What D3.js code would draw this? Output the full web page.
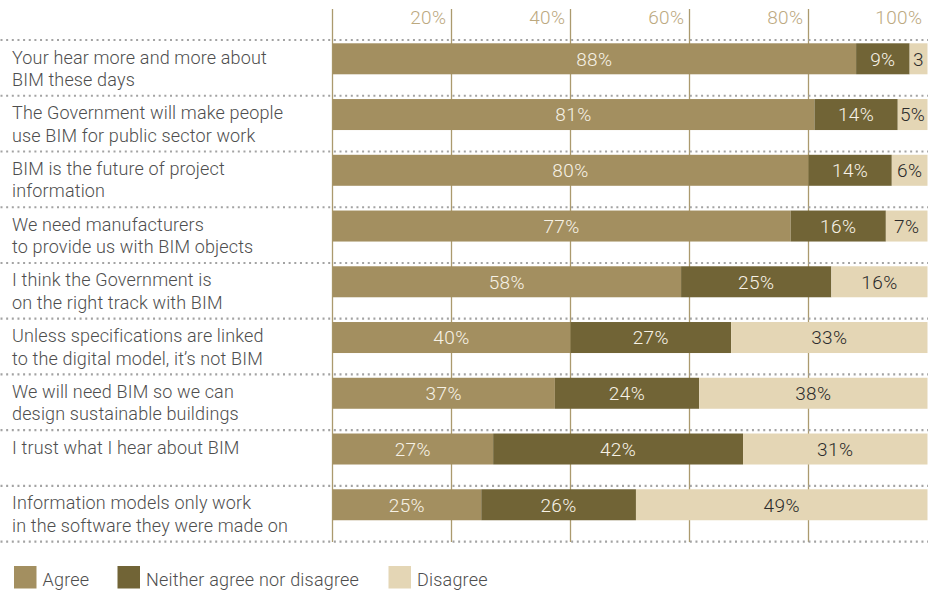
<!DOCTYPE html>
<html>
<head>
<meta charset="utf-8">
<script src="https://cdn.jsdelivr.net/npm/d3@7"></script>
<style>
  html, body { margin: 0; padding: 0; background: #fff; }
  svg { display: block; }
  text { font-family: Roboto, "Noto Sans", sans-serif; }
</style>
</head>
<body>
<svg id="chart" width="939" height="594"></svg>
<script>
// Survey statements (line breaks mark the two-line labels)
const questions = [
  "Your hear more and more about\nBIM these days",
  "The Government will make people\nuse BIM for public sector work",
  "BIM is the future of project\ninformation",
  "We need manufacturers\nto provide us with BIM objects",
  "I think the Government is\non the right track with BIM",
  "Unless specifications are linked\nto the digital model, it’s not BIM",
  "We will need BIM so we can\ndesign sustainable buildings",
  "I trust what I hear about BIM",
  "Information models only work\nin the software they were made on"
];

// Response shares, in percent
const agree    = [88, 81, 80, 77, 58, 40, 37, 27, 25];
const neither  = [ 9, 14, 14, 16, 25, 27, 24, 42, 26];
const disagree = [ 3,  5,  6,  7, 16, 33, 38, 31, 49];

const seriesKeys   = ["agree", "neither", "disagree"];
const seriesNames  = ["Agree", "Neither agree nor disagree", "Disagree"];
const seriesColors = ["#a38f60", "#716436", "#e4d6b5"];
const labelColors  = ["#f7f2e6", "#f7f2e6", "#2b2b2b"];

const tickValues = [0.2, 0.4, 0.6, 0.8, 1.0];
const gridValues = [0, 0.2, 0.4, 0.6, 0.8];

const rows = questions.map((q, i) => ({
  question: q, agree: agree[i], neither: neither[i], disagree: disagree[i]
}));

const svg = d3.select("#chart");

const x = d3.scaleLinear().domain([0, 1]).range([332.5, 927.5]);
const y = d3.scaleBand().domain(questions).range([40, 541.7]).paddingInner(0);

const stacked = d3.stack()
  .keys(seriesKeys)
  .offset(d3.stackOffsetExpand)(rows);

// vertical gridlines, behind the bars
svg.append("g")
  .selectAll("line")
  .data(gridValues)
  .join("line")
  .attr("x1", d => x(d)).attr("x2", d => x(d))
  .attr("y1", 9).attr("y2", 542)
  .attr("stroke", "#ab9a6e")
  .attr("stroke-width", 1.3);

// percentage scale along the top
svg.append("g")
  .selectAll("text")
  .data(tickValues)
  .join("text")
  .attr("x", d => x(d) - 5)
  .attr("y", 24)
  .attr("text-anchor", "end")
  .attr("fill", "#bca97f")
  .attr("font-size", 19)
  .attr("font-weight", 300)
  .attr("letter-spacing", 0.4)
  .text(d => d3.format(".0%")(d));

// dotted row separators
const sepY = questions.map(q => y(q)).concat([y.range()[1]]);
svg.append("g")
  .selectAll("line")
  .data(sepY)
  .join("line")
  .attr("x1", 0.5).attr("x2", 928)
  .attr("y1", d => d).attr("y2", d => d)
  .attr("stroke", "#a3a3a3")
  .attr("stroke-width", 2.2)
  .attr("stroke-dasharray", "2 3.65");

// statement labels
const qLabels = svg.append("g")
  .selectAll("text")
  .data(questions)
  .join("text")
  .attr("x", 12)
  .attr("y", d => y(d) + 23.5)
  .attr("fill", "#4e4e4e")
  .attr("font-size", 18)
  .attr("font-weight", 300)
  .attr("letter-spacing", 0.15);
qLabels.selectAll("tspan")
  .data(d => d.split("\n"))
  .join("tspan")
  .attr("x", 12)
  .attr("dy", (d, i) => i === 0 ? 0 : 22.5)
  .text(d => d);

// stacked segments
const layers = svg.append("g")
  .selectAll("g")
  .data(stacked)
  .join("g")
  .attr("fill", (d, i) => seriesColors[i]);

layers.selectAll("rect")
  .data(d => d)
  .join("rect")
  .attr("x", d => x(d[0]))
  .attr("width", d => x(d[1]) - x(d[0]))
  .attr("y", d => y(d.data.question) + 3.3)
  .attr("height", 31);

// value labels, centred in each segment
const valueLayers = svg.append("g")
  .selectAll("g")
  .data(stacked)
  .join("g")
  .attr("fill", (d, i) => labelColors[i]);

valueLayers.selectAll("text")
  .data(s => s.map(d => ({ d, key: s.key })))
  .join("text")
  .attr("x", o => (x(o.d[0]) + x(o.d[1])) / 2)
  .attr("y", o => y(o.d.data.question) + 3.3 + 15.5)
  .attr("dy", "0.36em")
  .attr("text-anchor", "middle")
  .attr("font-size", 19)
  .attr("font-weight", 300)
  .attr("letter-spacing", 0.4)
  .text(o => {
    const v = o.d.data[o.key];
    const w = x(o.d[1]) - x(o.d[0]);
    return w < 26 ? String(v) : v + "%";
  });

// legend
const legend = svg.append("g")
  .selectAll("g")
  .data(seriesNames)
  .join("g")
  .attr("transform", (d, i) => `translate(${[14, 117.5, 388.5][i]},566)`);

legend.append("rect")
  .attr("width", 22.5).attr("height", 22.5)
  .attr("fill", (d, i) => seriesColors[i]);

legend.append("text")
  .attr("x", 28.5)
  .attr("y", 20)
  .attr("fill", "#4e4e4e")
  .attr("font-size", 18)
  .attr("font-weight", 300)
  .attr("letter-spacing", 0.2)
  .text(d => d);
</script>
</body>
</html>
